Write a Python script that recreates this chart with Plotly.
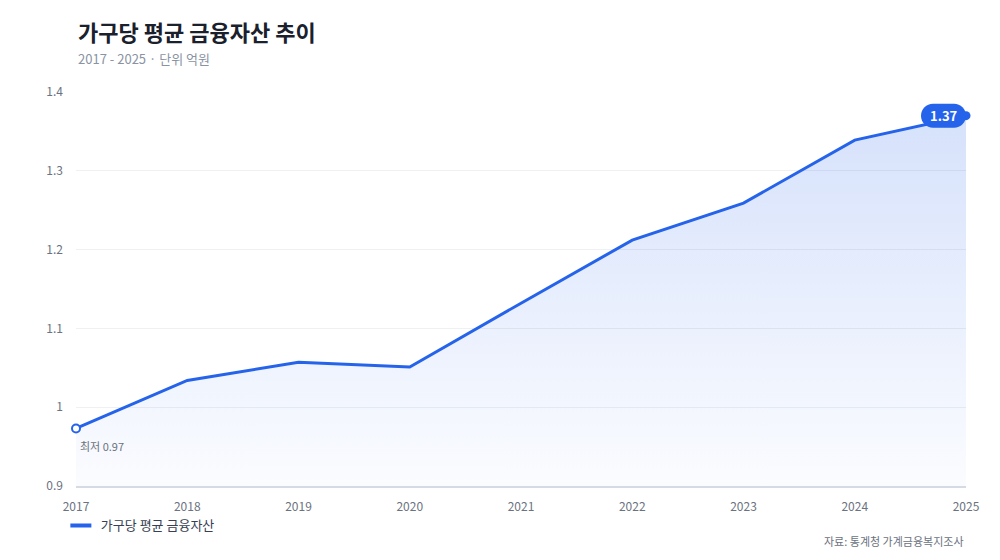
import plotly.graph_objects as go

years = [2017, 2018, 2019, 2020, 2021, 2022, 2023, 2024, 2025]
assets = [0.973, 1.034, 1.057, 1.051, 1.132, 1.212, 1.259, 1.339, 1.37]
series_name = "가구당 평균 금융자산"
title = "가구당 평균 금융자산 추이"
subtitle = "2017 - 2025 · 단위 억원"
source = "자료: 통계청 가계금융복지조사"
y_ticks = [0.9, 1.0, 1.1, 1.2, 1.3, 1.4]
y_tick_text = ["0.9", "1", "1.1", "1.2", "1.3", "1.4"]
y_min, y_max = 0.9, 1.4

BLUE = "#2563eb"
FONT = "Noto Sans CJK KR"
GRAY = "#6b7280"

fig = go.Figure()

# baseline for fill
fig.add_trace(go.Scatter(
    x=years, y=[y_min] * len(years), mode="lines",
    line=dict(width=0, color="rgba(0,0,0,0)"), showlegend=False, hoverinfo="skip",
))
fig.add_trace(go.Scatter(
    x=years, y=assets, mode="lines", name=series_name, showlegend=False,
    line=dict(color=BLUE, width=3),
    fill="tonexty",
    fillgradient=dict(type="vertical", start=y_min, stop=y_max,
                      colorscale=[[0, "rgba(37,99,235,0.02)"], [1, "rgba(37,99,235,0.2)"]]),
    cliponaxis=False,
))
# legend entry (short line symbol)
fig.add_trace(go.Scatter(
    x=[None], y=[None], mode="markers", name=series_name, showlegend=True,
    marker=dict(symbol="line-ew", size=15, line=dict(width=4, color=BLUE)),
))
# min marker
i_min = assets.index(min(assets))
fig.add_trace(go.Scatter(
    x=[years[i_min]], y=[assets[i_min]], mode="markers", showlegend=False,
    marker=dict(size=8, color="white", line=dict(color=BLUE, width=2)),
    cliponaxis=False, hoverinfo="skip",
))
# last marker
fig.add_trace(go.Scatter(
    x=[years[-1]], y=[assets[-1]], mode="markers", showlegend=False,
    marker=dict(size=9, color=BLUE),
    cliponaxis=False, hoverinfo="skip",
))

# badge pill anchored at last point (pixel offsets)
k = 0.5523 * 12
path = (f"M -33,-12 L -12,-12 C {-12+k},-12 0,{-k} 0,0 C 0,{k} {-12+k},12 -12,12 "
        f"L -33,12 C {-33-k},12 -45,{k} -45,0 C -45,{-k} {-33-k},-12 -33,-12 Z")
fig.add_shape(type="path", xsizemode="pixel", ysizemode="pixel",
              xanchor=years[-1], yanchor=assets[-1], xref="x", yref="y",
              path=path, fillcolor=BLUE, line=dict(width=0), layer="above")

fig.add_annotation(x=years[-1], y=assets[-1], text=f"<b>{assets[-1]:.2f}</b>",
                   showarrow=False, xanchor="center", yanchor="middle", xshift=-22.5,
                   font=dict(family=FONT, size=13, color="white"))
fig.add_annotation(x=years[i_min], y=assets[i_min], text=f"최저 {assets[i_min]:.2f}",
                   showarrow=False, xanchor="left", yanchor="top", xshift=2, yshift=-8,
                   font=dict(family=FONT, size=11, color=GRAY))

fig.add_annotation(xref="paper", yref="paper", x=0, y=1, yshift=61, xanchor="left", yanchor="middle",
                   text=f"<b>{title}</b>", showarrow=False,
                   font=dict(family=FONT, size=22, color="#1a202c"))
fig.add_annotation(xref="paper", yref="paper", x=0, y=1, yshift=34, xanchor="left", yanchor="middle",
                   text=subtitle, showarrow=False,
                   font=dict(family=FONT, size=13, color="#8a93a3"))
fig.add_annotation(xref="paper", yref="paper", x=1, y=0, yshift=-55, xanchor="right", yanchor="middle",
                   text=source, showarrow=False,
                   font=dict(family=FONT, size=11, color=GRAY))

fig.update_layout(
    width=992, height=552,
    margin=dict(l=68, r=34, t=84, b=74),
    paper_bgcolor="white", plot_bgcolor="white",
    font=dict(family=FONT, color=GRAY, size=12),
    showlegend=True,
    legend=dict(orientation="h", x=-0.017, xanchor="left", y=-0.062, yanchor="top", yref="paper",
                xref="paper",
                font=dict(family=FONT, size=13, color="#374151"),
                itemwidth=30, bgcolor="rgba(0,0,0,0)"),
    xaxis=dict(range=[years[0], years[-1]], tickvals=years, ticktext=[str(y) for y in years],
               showgrid=False, zeroline=False, showline=True, linecolor="#d6dae2", linewidth=1.5,
               ticks="", ticklabelstandoff=9, tickfont=dict(size=12, color=GRAY)),
    yaxis=dict(range=[y_min, y_max], tickvals=y_ticks, ticktext=y_tick_text,
               showgrid=True, gridcolor="#eef0f4", gridwidth=1, zeroline=False, showline=False,
               ticks="", ticklabelstandoff=12, tickfont=dict(size=12, color=GRAY)),
)

fig.write_html("out.html")
